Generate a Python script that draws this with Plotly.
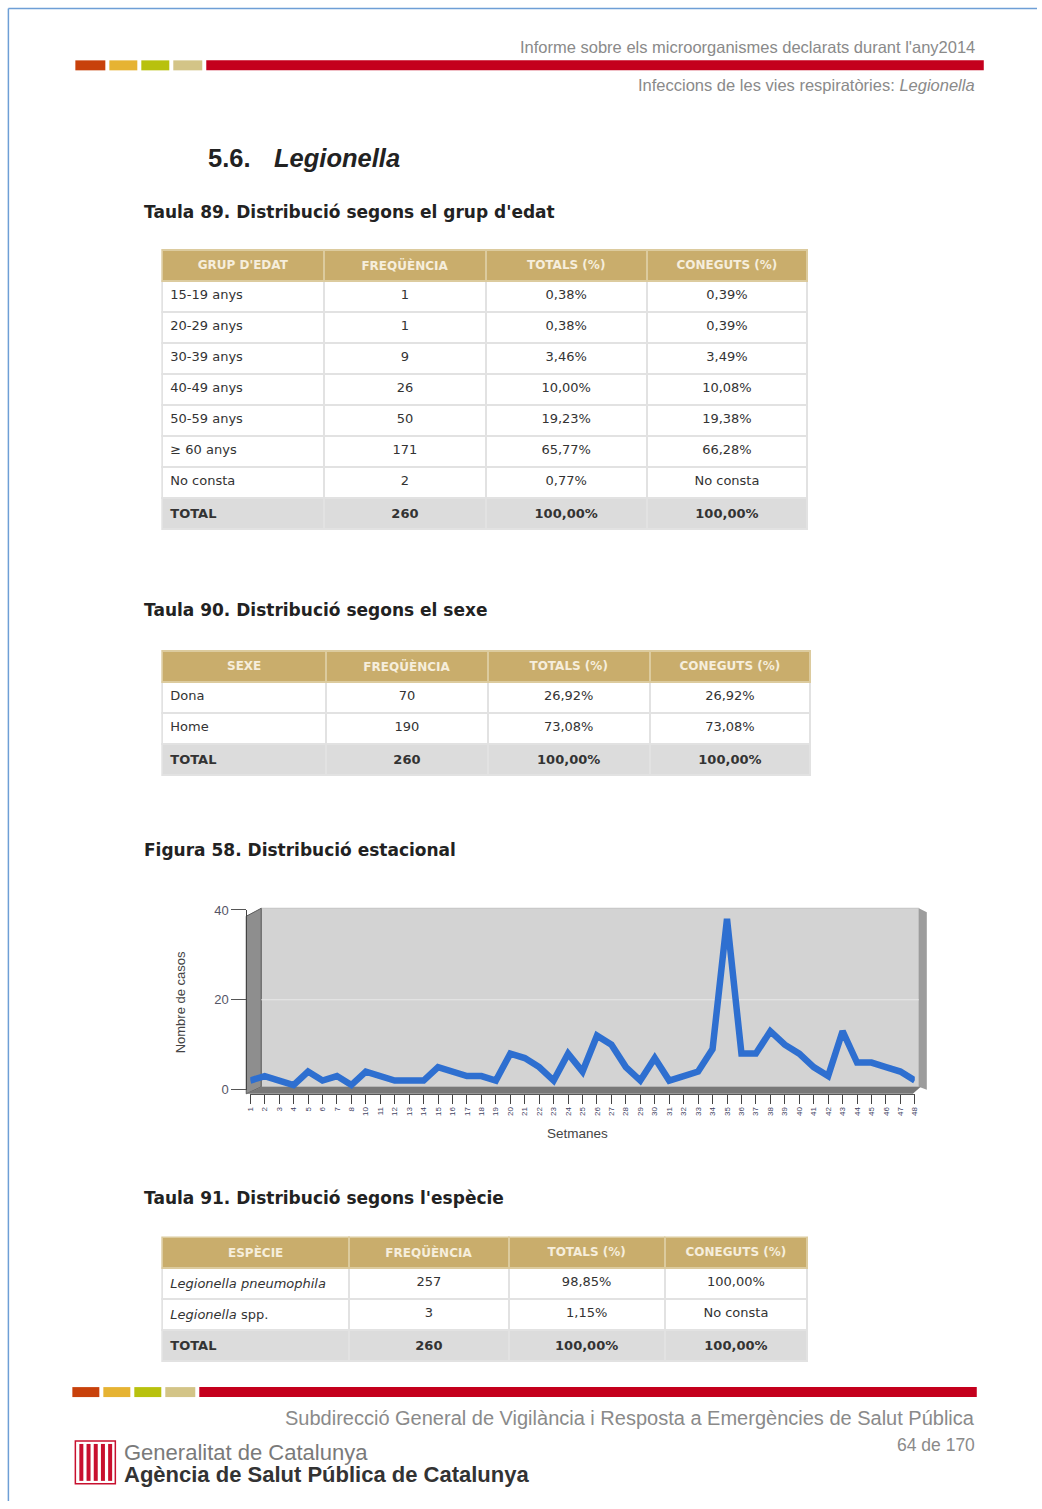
import plotly.graph_objects as go

W, H = 1042, 1509
# small empirical correction so that page coordinates land where intended
SX, SY, OX, OY = 0.992, 0.9925, 4.6, 6.5


def px(x):
    return ((x - OX) / SX) / W


def py(y):
    return 1 - ((y - OY) / SY) / H


# ---------------- data ----------------
age_groups = ["15-19 anys", "20-29 anys", "30-39 anys", "40-49 anys", "50-59 anys", "≥ 60 anys", "No consta"]
age_freq = ["1", "1", "9", "26", "50", "171", "2"]
age_tot = ["0,38%", "0,38%", "3,46%", "10,00%", "19,23%", "65,77%", "0,77%"]
age_con = ["0,39%", "0,39%", "3,49%", "10,08%", "19,38%", "66,28%", "No consta"]
age_total_row = ["TOTAL", "260", "100,00%", "100,00%"]

sex_groups = ["Dona", "Home"]
sex_freq = ["70", "190"]
sex_tot = ["26,92%", "73,08%"]
sex_con = ["26,92%", "73,08%"]
sex_total_row = ["TOTAL", "260", "100,00%", "100,00%"]

sp_groups = ["<i>Legionella pneumophila</i>", "<i>Legionella</i> spp."]
sp_freq = ["257", "3"]
sp_tot = ["98,85%", "1,15%"]
sp_con = ["100,00%", "No consta"]
sp_total_row = ["TOTAL", "260", "100,00%", "100,00%"]

weeks = [str(w) for w in list(range(1, 9)) + list(range(10, 49))]
cases = [2, 3, 2, 1, 4, 2, 3, 1, 4, 3,
         2, 2, 2, 5, 4, 3, 3, 2, 8, 7,
         5, 2, 8, 4, 12, 10, 5, 2, 7, 2,
         3, 4, 9, 38, 8, 8, 13, 10, 8, 5,
         3, 13, 6, 6, 5, 4, 2]
y_ticks = [0, 20, 40]

# ---------------- styles ----------------
GOLD = "#c9ad6c"
CREAM = "#f6eedc"
TXT = "#333333"
CELL_FONT = "DejaVu Sans, Verdana, sans-serif"
HEAD_FONT = "DejaVu Sans, Verdana, sans-serif"
SANS = "Liberation Sans, Arial, sans-serif"
BOLD_FONT = "DejaVu Sans, Verdana, sans-serif"

fig = go.Figure()


def add_table(header, cols, total_row, widths, x0, x1, y0, y1):
    n = len(cols[0])
    values = [list(c) + ["<b>%s</b>" % t] for c, t in zip(cols, total_row)]
    fills = [["white"] * n + ["#dcdcdc"] for _ in cols]
    fig.add_trace(go.Table(
        domain=dict(x=[px(x0), px(x1)], y=[py(y1), py(y0)]),
        columnwidth=widths,
        header=dict(values=["<b>%s</b>" % h for h in header],
                    fill_color=GOLD,
                    line=dict(color="#dccb9e", width=2),
                    font=dict(color=CREAM, size=12, family=HEAD_FONT),
                    align="center", height=30),
        cells=dict(values=values,
                   fill_color=fills,
                   line=dict(color="#e2e2e2", width=2),
                   font=dict(color=TXT, size=13, family=CELL_FONT),
                   align=["left", "center", "center", "center"],
                   height=31),
    ))


add_table(["GRUP D'EDAT", "FREQÜÈNCIA", "TOTALS (%)", "CONEGUTS (%)"],
          [age_groups, age_freq, age_tot, age_con], age_total_row,
          [162, 162, 161, 161], 163, 809, 250, 545)
add_table(["SEXE", "FREQÜÈNCIA", "TOTALS (%)", "CONEGUTS (%)"],
          [sex_groups, sex_freq, sex_tot, sex_con], sex_total_row,
          [164, 162, 162, 161], 163, 812, 652, 790)
add_table(["ESPÈCIE", "FREQÜÈNCIA", "TOTALS (%)", "CONEGUTS (%)"],
          [sp_groups, sp_freq, sp_tot, sp_con], sp_total_row,
          [187, 160, 156, 143], 163, 809, 1240, 1375)

# ---------------- chart ----------------
fig.add_trace(go.Scatter(
    x=weeks, y=cases, mode="lines",
    line=dict(color="#2e6fd0", width=6.5),
    showlegend=False, hoverinfo="x+y",
))

shapes = []


def rect(x0, y0, x1, y1, color, layer="above", line=None):
    shapes.append(dict(type="rect", xref="paper", yref="paper",
                       x0=px(x0), x1=px(x1), y0=py(y1), y1=py(y0),
                       fillcolor=color, line=line or dict(width=0), layer=layer))


def poly(pts, color, layer="below", line=None):
    path = "M " + " L ".join("%f,%f" % (px(a), py(b)) for a, b in pts) + " Z"
    shapes.append(dict(type="path", xref="paper", yref="paper", path=path,
                       fillcolor=color, line=line or dict(width=0), layer=layer))


# page frame
shapes.append(dict(type="line", xref="paper", yref="paper", x0=px(9), x1=px(9), y0=0, y1=py(8),
                   line=dict(color="#6e9fd6", width=1.5)))
shapes.append(dict(type="line", xref="paper", yref="paper", x0=px(9), x1=1, y0=py(8), y1=py(8),
                   line=dict(color="#6e9fd6", width=1.5)))

# header colour bar
for a, b, c in [(76, 106, "#c8410b"), (110, 138, "#e6b333"), (142, 170, "#b8c10e"),
                (174, 203, "#d3c487"), (207, 985, "#c4001d")]:
    rect(a, 60, b, 70, c)
# footer colour bar
for a, b, c in [(73, 100, "#c8410b"), (104, 131, "#e6b333"), (135, 162, "#b8c10e"),
                (166, 196, "#d3c487"), (200, 978, "#c4001d")]:
    rect(a, 1390, b, 1400, c)

# logo
rect(76, 1444, 116, 1487, "white", line=dict(color="#c8102e", width=1.5))
for i in range(5):
    rect(80 + i * 7.2, 1447, 84 + i * 7.2, 1484, "#c8102e")

# 3D chart frame
poly([(262, 910), (920, 910), (920, 1089), (262, 1089)], "#d3d3d3", line=dict(color="#c2c2c2", width=1))
poly([(920, 910), (928, 914), (928, 1092), (920, 1089)], "#9c9c9c")
poly([(247, 918), (262, 910), (262, 1089), (247, 1096)], "#8e8e8e", line=dict(color="#5a5a5a", width=1))
poly([(247, 1096), (262, 1089), (922, 1089), (914, 1096)], "#787878")
shapes.append(dict(type="line", xref="paper", yref="y", x0=px(262), x1=px(920), y0=20, y1=20,
                   line=dict(color="#e8e8e8", width=1.2), layer="below"))

fig.update_layout(
    width=W, height=H,
    margin=dict(l=0, r=0, t=0, b=0),
    paper_bgcolor="white",
    plot_bgcolor="rgba(0,0,0,0)",
    showlegend=False,
    shapes=shapes,
    xaxis=dict(domain=[px(251), px(916)], type="category", range=[0, len(weeks) - 1],
               anchor="free", position=py(1096),
               showgrid=False, zeroline=False,
               showline=True, linecolor="#555555", linewidth=1,
               ticks="outside", ticklen=9, tickcolor="#444444",
               tickangle=-90, tickfont=dict(size=8, color="#444466", family=SANS),
               fixedrange=True),
    yaxis=dict(domain=[py(1091.7), py(911.7)], range=[0, 40],
               tickvals=y_ticks, anchor="free", position=px(247),
               showgrid=False, zeroline=False,
               showline=True, linecolor="#444444", linewidth=1,
               ticks="outside", ticklen=15, tickcolor="#555555",
               tickfont=dict(size=13, color="#555566", family=SANS),
               fixedrange=True),
)

ann = []


def text(x, y, s, size, color="#222222", anchor="left", family=SANS, angle=0):
    ann.append(dict(x=px(x), y=py(y), xref="paper", yref="paper", text=s, showarrow=False,
                    xanchor=anchor, yanchor="middle", textangle=angle,
                    font=dict(size=size, color=color, family=family)))


text(978, 47, "Informe sobre els microorganismes declarats durant l'any2014", 16.5, "#8a8a8a", "right")
text(978, 85, "Infeccions de les vies respiratòries: <i>Legionella</i>", 16.5, "#8a8a8a", "right")
text(207, 158, "<b>5.6.</b>", 25.5, "#222222")
text(273, 158, "<b><i>Legionella</i></b>", 25.5, "#222222")
text(143, 212, "<b>Taula 89. Distribució segons el grup d'edat</b>", 17, family=BOLD_FONT)
text(143, 611, "<b>Taula 90. Distribució segons el sexe</b>", 17, family=BOLD_FONT)
text(143, 852, "<b>Figura 58. Distribució estacional</b>", 17, family=BOLD_FONT)
text(143, 1200, "<b>Taula 91. Distribució segons l'espècie</b>", 17, family=BOLD_FONT)
text(181, 1004, "Nombre de casos", 13, "#444444", "center", angle=-90)
text(578, 1136, "Setmanes", 13.5, "#444444", "center")
text(978, 1421, "Subdirecció General de Vigilància i Resposta a Emergències de Salut Pública", 20, "#8a8a8a", "right")
text(978, 1448, "64 de 170", 17.5, "#8a8a8a", "right")
text(123, 1456, "Generalitat de Catalunya", 22, "#7a7a7a")
text(123, 1478, "<b>Agència de Salut Pública de Catalunya</b>", 22, "#333333")

fig.update_layout(annotations=ann)

fig.write_html("out.html",
               config={"displayModeBar": False},
               post_script="document.body.style.margin='0';document.body.style.overflow='hidden';")
